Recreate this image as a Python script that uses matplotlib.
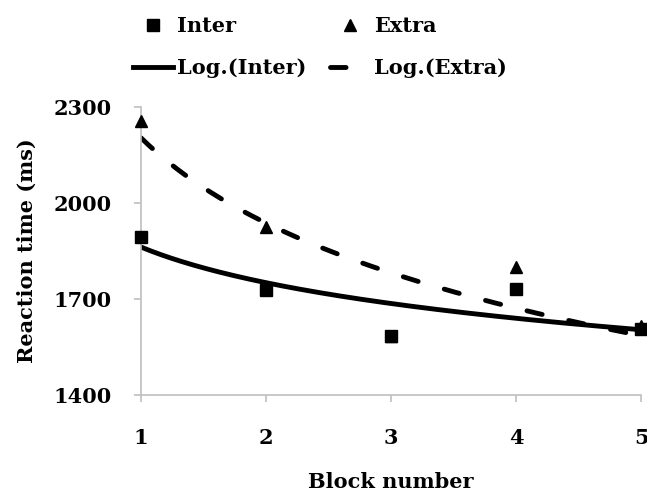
import numpy as np
from matplotlib import pyplot as plt

# block numbers and mean reaction times (ms)
blocks = np.array([1, 2, 3, 4, 5])
inter = np.array([1895, 1728, 1584, 1731, 1605])
extra = np.array([2255, 1925, 1584, 1800, 1615])
yticks = [1400, 1700, 2000, 2300]

plt.rcParams['font.family'] = 'DejaVu Serif'
plt.rcParams['font.weight'] = 'bold'

fig = plt.figure(figsize=(6.47, 4.97), dpi=100)
ax = fig.add_axes([0.218, 0.205, 0.773, 0.58])

# log trendlines, least squares on ln(x) like excel does
xx = np.linspace(1, 5, 200)
bi, ai = np.polyfit(np.log(blocks), inter, 1)
be, ae = np.polyfit(np.log(blocks), extra, 1)

ax.plot(blocks, extra, '^', color='black', ms=9, label='Extra', clip_on=False, zorder=3)
ax.plot(blocks, inter, 's', color='black', ms=8.5, label='Inter', clip_on=False, zorder=4)
ax.plot(xx, ai + bi*np.log(xx), '-', color='black', lw=3.5, label='Log.(Inter)', zorder=2)
ax.plot(xx, ae + be*np.log(xx), color='black', lw=3.5, linestyle=(0, (3.2, 5.6)),
        dash_capstyle='round', label='Log.(Extra)', zorder=2)

ax.set_xlim(1, 5)
ax.set_ylim(1400, 2300)
ax.set_yticks(yticks)
ax.set_xticks(blocks)
for s in ['top', 'right']:
    ax.spines[s].set_visible(False)
for s in ['left', 'bottom']:
    ax.spines[s].set_color('#bfbfbf')
    ax.spines[s].set_linewidth(1.2)
ax.tick_params(axis='y', length=5, color='#bfbfbf', width=1.2, pad=16, labelsize=15)
ax.tick_params(axis='x', length=5, color='#bfbfbf', width=1.2, pad=19, labelsize=15)

ax.set_xlabel('Block number', fontsize=15, fontweight='bold', labelpad=17)
ax.set_ylabel('Reaction time (ms)', fontsize=15, fontweight='bold', labelpad=12)

h, l = ax.get_legend_handles_labels()
order = [1, 2, 0, 3]
leg = fig.legend([h[i] for i in order], [l[i] for i in order], ncol=2,
                 loc='upper left', bbox_to_anchor=(0.177, 1.005), frameon=False,
                 fontsize=15, handlelength=1.9, handletextpad=0.2,
                 columnspacing=1.15, labelspacing=1.05)

plt.savefig('out.png', dpi=100)
